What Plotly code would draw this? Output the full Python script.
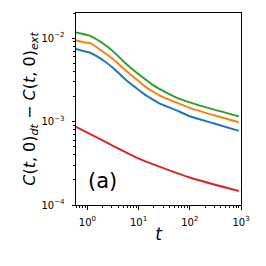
import plotly.graph_objects as go

# time points
t = [0.6, 0.9, 1.13, 2.2, 3.47, 5.4, 7.88, 13.3, 18, 26, 51, 100, 300, 906]

green = [0.01167, 0.01104, 0.01064, 0.00832, 0.00661, 0.00507, 0.00415, 0.00323, 0.00281,
         0.00244, 0.00198, 0.00170, 0.00139, 0.001156]
orange = [0.00935, 0.00885, 0.00871, 0.00662, 0.00535, 0.00417, 0.00345, 0.00264, 0.00234,
          0.00205, 0.00172, 0.00146, 0.00119, 0.000982]
blue = [0.00740, 0.00692, 0.00667, 0.00525, 0.00419, 0.00324, 0.00268, 0.00210, 0.00187,
        0.00164, 0.00139, 0.001156, 0.000946, 0.000774]

t_red = [0.6, 2.12, 11.0, 104, 906]
red = [8.65e-4, 5.82e-4, 3.52e-4, 2.12e-4, 1.47e-4]

x_tickvals = [1, 10, 100, 1000]
x_ticktext = ["10<sup>0</sup>", "10<sup>1</sup>", "10<sup>2</sup>", "10<sup>3</sup>"]
y_tickvals = [1e-4, 1e-3, 1e-2]
y_ticktext = ["10<sup>−4</sup>", "10<sup>−3</sup>", "10<sup>−2</sup>"]

x_minor = [k * 10.0 ** n for n in range(-1, 3) for k in range(2, 10)]
y_minor = [k * 10.0 ** n for n in range(-4, -1) for k in range(2, 10)]

FONT = "DejaVu Sans"

fig = go.Figure()
for xs, ys, col in [(t, blue, "#1f77b4"), (t, orange, "#ff7f0e"),
                    (t, green, "#2ca02c"), (t_red, red, "#d62728")]:
    fig.add_trace(go.Scatter(x=xs, y=ys, mode="lines",
                             line=dict(color=col, width=2, shape="spline", smoothing=0.6),
                             showlegend=False, hoverinfo="skip"))

axis_common = dict(
    type="log", showgrid=False, zeroline=False, showline=True, linecolor="black",
    linewidth=1, mirror=True, ticks="outside", ticklen=3.5, tickwidth=1, tickcolor="black",
    tickfont=dict(family=FONT, size=10, color="black"), automargin=False,
)

fig.update_xaxes(range=[-0.2218, 3.0], tickmode="array", tickvals=x_tickvals, ticktext=x_ticktext,
                 ticklabelstandoff=4,
                 minor=dict(tickmode="array", tickvals=x_minor, ticks="outside", ticklen=2,
                            tickcolor="black", tickwidth=0.8, showgrid=False),
                 title=dict(text="<i>t</i>", font=dict(family=FONT, size=17, color="black"), standoff=1),
                 **axis_common)
fig.update_yaxes(range=[-4.0, -1.699], tickmode="array", tickvals=y_tickvals, ticktext=y_ticktext,
                 ticklabelstandoff=5,
                 minor=dict(tickmode="array", tickvals=y_minor, ticks="outside", ticklen=2,
                            tickcolor="black", tickwidth=0.8, showgrid=False),
                 title=dict(text="<i>C</i>(<i>t</i>, 0)<sub><i>dt</i></sub> − <i>C</i>(<i>t</i>, 0)<sub><i>ext</i></sub>",
                            font=dict(family=FONT, size=16, color="black"), standoff=1),
                 **axis_common)

fig.add_annotation(x=0.163, y=0.127, xref="paper", yref="paper", text="(a)", showarrow=False,
                   xanchor="center", yanchor="middle",
                   font=dict(family=FONT, size=21, color="black"))

fig.update_layout(width=266, height=266, margin=dict(l=76, r=25, t=13, b=61),
                  plot_bgcolor="white", paper_bgcolor="white")
fig.write_html("out.html", config={"displayModeBar": False},
               post_script="document.body.style.margin='0px';")
